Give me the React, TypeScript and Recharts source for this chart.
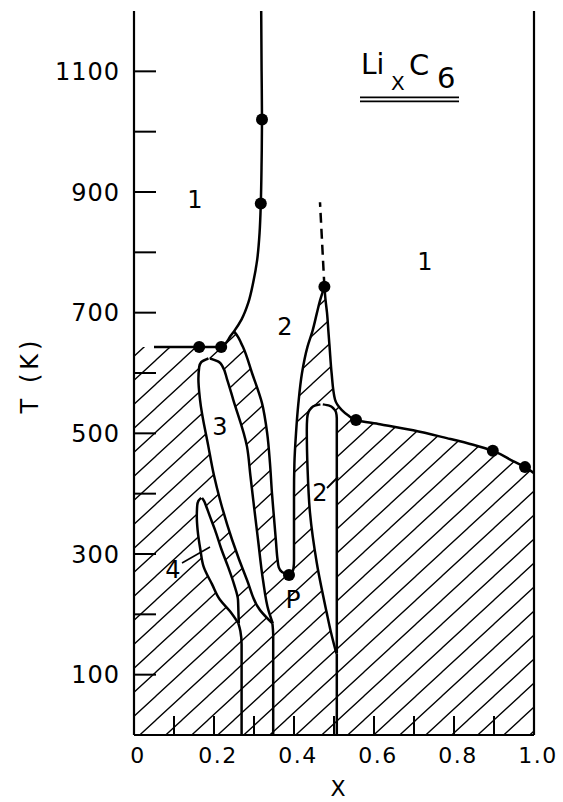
import React from "react";
import { ComposedChart, Area, Line, Scatter, XAxis, YAxis } from "recharts";

type Pt = [number, number]; // [x, T]
type Row = [number, number, number]; // [T, x left, x right]

const X_TICKS = [0, 0.1, 0.2, 0.3, 0.4, 0.5, 0.6, 0.7, 0.8, 0.9, 1.0];
const X_LABELS = ["0", "", "0.2", "", "0.4", "", "0.6", "", "0.8", "", "1.0"];
const X_TOP_TICKS = [0.1, 0.2, 0.3, 0.4, 0.5, 0.6, 0.7, 0.8, 0.9];
const T_TICKS = [100, 200, 300, 400, 500, 600, 700, 800, 900, 1000, 1100];

// phase boundaries, ascending in T
const boundary12: Pt[] = [
  [0.218, 643], [0.23, 650], [0.24, 660], [0.25, 669], [0.269, 689], [0.286, 717],
  [0.298, 750], [0.308, 788], [0.314, 833], [0.317, 881], [0.319, 950], [0.32, 1020],
  [0.319, 1100], [0.318, 1200],
];
const region2Left: Pt[] = [
  [0.3875, 265], [0.37, 270], [0.362, 278], [0.359, 290], [0.355, 320], [0.35, 360],
  [0.345, 400], [0.34, 450], [0.333, 500], [0.32, 550], [0.295, 600], [0.2725, 643],
  [0.2675, 650], [0.26, 660], [0.25, 669],
];
const region2Right: Pt[] = [
  [0.3875, 265], [0.396, 270], [0.399, 278], [0.4, 290], [0.4, 320], [0.4, 360],
  [0.4, 400], [0.401, 450], [0.405, 500], [0.411, 550], [0.42, 600], [0.4335, 643],
  [0.446, 669], [0.4575, 700], [0.465, 720], [0.476, 743],
];
const outerRight: Pt[] = [
  [1.0, 434], [0.9775, 444], [0.9475, 454], [0.897, 471], [0.848, 481], [0.782, 492],
  [0.698, 505], [0.615, 515], [0.555, 522], [0.535, 530], [0.519, 539], [0.5025, 556],
  [0.494, 600], [0.489, 643], [0.486, 669], [0.4825, 700], [0.479, 720], [0.476, 743],
];
const dashedBoundary: Pt[] = [[0.476, 743], [0.465, 883]];
const tripleLine: Pt[] = [[0.05, 643], [0.218, 643]];
const stage4Line: Pt[] = [[0.269, 0], [0.269, 150], [0.266, 172], [0.261, 185]];
const stage3Line: Pt[] = [[0.348, 0], [0.348, 165], [0.346, 185]];
const stage2Line: Pt[] = [[0.507, 0], [0.507, 135]];

const tongue3: Row[] = [
  [185, 0.346, 0.347], [207, 0.315, 0.336], [257, 0.2825, 0.3225], [324, 0.245, 0.31],
  [390, 0.215, 0.298], [430, 0.2, 0.291], [478, 0.186, 0.2825], [556, 0.165, 0.248],
  [590, 0.161, 0.2325], [610, 0.163, 0.222], [618, 0.168, 0.213], [624, 0.186, 0.19],
];
const tongue4: Row[] = [
  [185, 0.261, 0.262], [205, 0.24, 0.261], [224, 0.215, 0.26], [250, 0.195, 0.25],
  [279, 0.174, 0.235], [307, 0.166, 0.219], [340, 0.159, 0.2025], [362, 0.157, 0.19],
  [380, 0.158, 0.18], [388, 0.161, 0.175], [393, 0.168, 0.17],
];
const tongue2p: Row[] = [
  [135, 0.506, 0.507], [170, 0.4925, 0.507], [202, 0.482, 0.507], [285, 0.457, 0.507],
  [368, 0.44, 0.507], [440, 0.434, 0.507], [506, 0.432, 0.507], [525, 0.433, 0.507],
  [535, 0.436, 0.505], [541, 0.442, 0.499], [546, 0.452, 0.488], [548, 0.466, 0.472],
];

const measured: Pt[] = [
  [0.163, 643], [0.218, 643], [0.317, 881], [0.32, 1020], [0.476, 743],
  [0.555, 522], [0.897, 471], [0.9775, 444], [0.3875, 265],
];

const pts = (p: Pt[]) => p.map(([x, T]) => ({ x, T }));
const rows = (r: Row[]) => r.map(([T, a, b]) => ({ T, r: [a, b] }));
const pairRows = (left: Pt[], right: Pt[], lo: number, hi: number) =>
  left
    .filter(([, t]) => t >= lo && t <= hi)
    .map(([xl, t]) => {
      const m = right.find(([, tr]) => tr === t);
      return { T: t, r: [xl, m ? m[0] : xl] };
    });

const hatchMain = [
  { T: 0, r: [0, 1] },
  ...outerRight.filter(([, t]) => t <= 643).map(([x, t]) => ({ T: t, r: [0, x] })),
];
const hatchTri = pairRows(region2Right, outerRight, 643, 743);
const hatchStrip = pairRows(boundary12, region2Left, 643, 669);
const region2Fill = pairRows(region2Left, region2Right, 265, 643);

const INK = "#000";
const font = "DejaVu Sans";
const LW = 2.5;
const lineProps = {
  dataKey: "x",
  stroke: INK,
  strokeWidth: LW,
  dot: false,
  isAnimationActive: false,
  activeDot: false,
} as const;

export default function App() {
  return (
    <div style={{ position: "relative", width: 563, height: 802 }}>
      <style>{"body{margin:0}"}</style>
      <ComposedChart
        layout="vertical"
        width={563}
        height={802}
        margin={{ top: 11, right: 0, bottom: 0, left: 0 }}
      >
        <defs>
          <pattern id="hatch" patternUnits="userSpaceOnUse" width={26} height={24}>
            <path
              d="M0,24 L26,0 M-13,12 L13,-12 M13,36 L39,12"
              stroke={INK}
              strokeWidth={1.3}
            />
          </pattern>
        </defs>
        <XAxis
          type="number"
          domain={[0, 1]}
          ticks={X_TICKS}
          interval={0}
          allowDataOverflow
          height={67}
          tickSize={-19}
          tickMargin={31}
          tickFormatter={(v: number) => X_LABELS[Math.round(v * 10)]}
          tick={{ fontSize: 22, fill: INK, fontFamily: font, dx: 4, letterSpacing: 1.5 }}
          axisLine={{ stroke: INK, strokeWidth: 2.2 }}
          tickLine={{ stroke: INK, strokeWidth: 2 }}
        />
        <XAxis
          xAxisId="top"
          orientation="top"
          type="number"
          domain={[0, 1]}
          ticks={X_TOP_TICKS}
          interval={0}
          allowDataOverflow
          height={0}
          tickSize={-19}
          tickFormatter={() => ""}
          axisLine={{ stroke: INK, strokeWidth: 2.2 }}
          tickLine={{ stroke: INK, strokeWidth: 2 }}
        />
        <YAxis
          type="number"
          dataKey="T"
          domain={[0, 1200]}
          reversed
          allowDataOverflow
          ticks={T_TICKS}
          interval={0}
          width={134}
          tickSize={-22}
          tickMargin={36}
          tickFormatter={(v: number) => ((v / 100) % 2 === 1 ? String(v) : "")}
          tick={{ fontSize: 24, fill: INK, fontFamily: font, letterSpacing: 1 }}
          axisLine={{ stroke: INK, strokeWidth: 2.2 }}
          tickLine={{ stroke: INK, strokeWidth: 2 }}
        />
        <YAxis
          yAxisId="right"
          orientation="right"
          type="number"
          domain={[0, 1200]}
          reversed
          allowDataOverflow
          ticks={T_TICKS}
          interval={0}
          width={29}
          tickSize={-22}
          tickFormatter={() => ""}
          axisLine={{ stroke: INK, strokeWidth: 2.2 }}
          tickLine={{ stroke: INK, strokeWidth: 2 }}
        />

        {/* two-phase (hatched) regions */}
        <Area data={hatchMain} dataKey="r" type="linear" stroke="none" fill="url(#hatch)" fillOpacity={1} isAnimationActive={false} />
        <Area data={hatchTri} dataKey="r" type="linear" stroke="none" fill="url(#hatch)" fillOpacity={1} isAnimationActive={false} />
        <Area data={hatchStrip} dataKey="r" type="linear" stroke="none" fill="url(#hatch)" fillOpacity={1} isAnimationActive={false} />

        {/* single-phase pockets */}
        <Area data={region2Fill} dataKey="r" type="monotoneY" stroke="none" fill="#fff" fillOpacity={1} isAnimationActive={false} />
        <Area data={rows(tongue3)} dataKey="r" type="monotoneY" stroke={INK} strokeWidth={LW} fill="#fff" fillOpacity={1} isAnimationActive={false} />
        <Area data={rows(tongue4)} dataKey="r" type="monotoneY" stroke={INK} strokeWidth={LW} fill="#fff" fillOpacity={1} isAnimationActive={false} />
        <Area data={rows(tongue2p)} dataKey="r" type="monotoneY" stroke={INK} strokeWidth={LW} fill="#fff" fillOpacity={1} isAnimationActive={false} />

        {/* boundaries */}
        <Line {...lineProps} data={pts(boundary12)} type="monotoneY" />
        <Line {...lineProps} data={pts(region2Left)} type="monotoneY" />
        <Line {...lineProps} data={pts(region2Right)} type="monotoneY" />
        <Line {...lineProps} data={pts(outerRight)} type="monotoneY" />
        <Line {...lineProps} data={pts(tripleLine)} type="linear" />
        <Line {...lineProps} data={pts(dashedBoundary)} type="linear" strokeDasharray="10 6" />
        <Line {...lineProps} data={pts(stage4Line)} type="monotoneY" />
        <Line {...lineProps} data={pts(stage3Line)} type="monotoneY" />
        <Line {...lineProps} data={pts(stage2Line)} type="monotoneY" />

        <Scatter
          data={pts(measured)}
          dataKey="x"
          isAnimationActive={false}
          shape={(p: any) => <circle cx={p.cx} cy={p.cy} r={6} fill={INK} />}
        />
      </ComposedChart>

      <svg
        width={563}
        height={802}
        style={{ position: "absolute", left: 0, top: 0, pointerEvents: "none" }}
        fontFamily={font}
        fill={INK}
      >
        <text x={38} y={375} transform="rotate(-90 38 375)" textAnchor="middle" fontSize={24} letterSpacing={4}>
          T (K)
        </text>
        <text x={338} y={796} textAnchor="middle" fontSize={22}>X</text>

        <text x={361} y={74} fontSize={28}>Li</text>
        <text x={391} y={90} fontSize={20}>X</text>
        <text x={409} y={75} fontSize={29}>C</text>
        <text x={437} y={88} fontSize={29}>6</text>
        <line x1={360} y1={97.3} x2={459} y2={97.3} stroke={INK} strokeWidth={1.8} />
        <line x1={360} y1={101.3} x2={459} y2={101.3} stroke={INK} strokeWidth={1.8} />

        <text x={195} y={208} textAnchor="middle" fontSize={24}>1</text>
        <text x={425} y={270} textAnchor="middle" fontSize={24}>1</text>
        <text x={285} y={335} textAnchor="middle" fontSize={24}>2</text>
        <text x={220} y={435} textAnchor="middle" fontSize={24}>3</text>
        <text x={173} y={578} textAnchor="middle" fontSize={24}>4</text>
        <line x1={182} y1={563} x2={210} y2={547} stroke={INK} strokeWidth={1.5} />
        <text x={320} y={501} textAnchor="middle" fontSize={24}>2</text>
        <line x1={327} y1={488} x2={338} y2={477} stroke={INK} strokeWidth={1.8} />
        <text x={293} y={608} textAnchor="middle" fontSize={25}>P</text>
      </svg>
    </div>
  );
}
